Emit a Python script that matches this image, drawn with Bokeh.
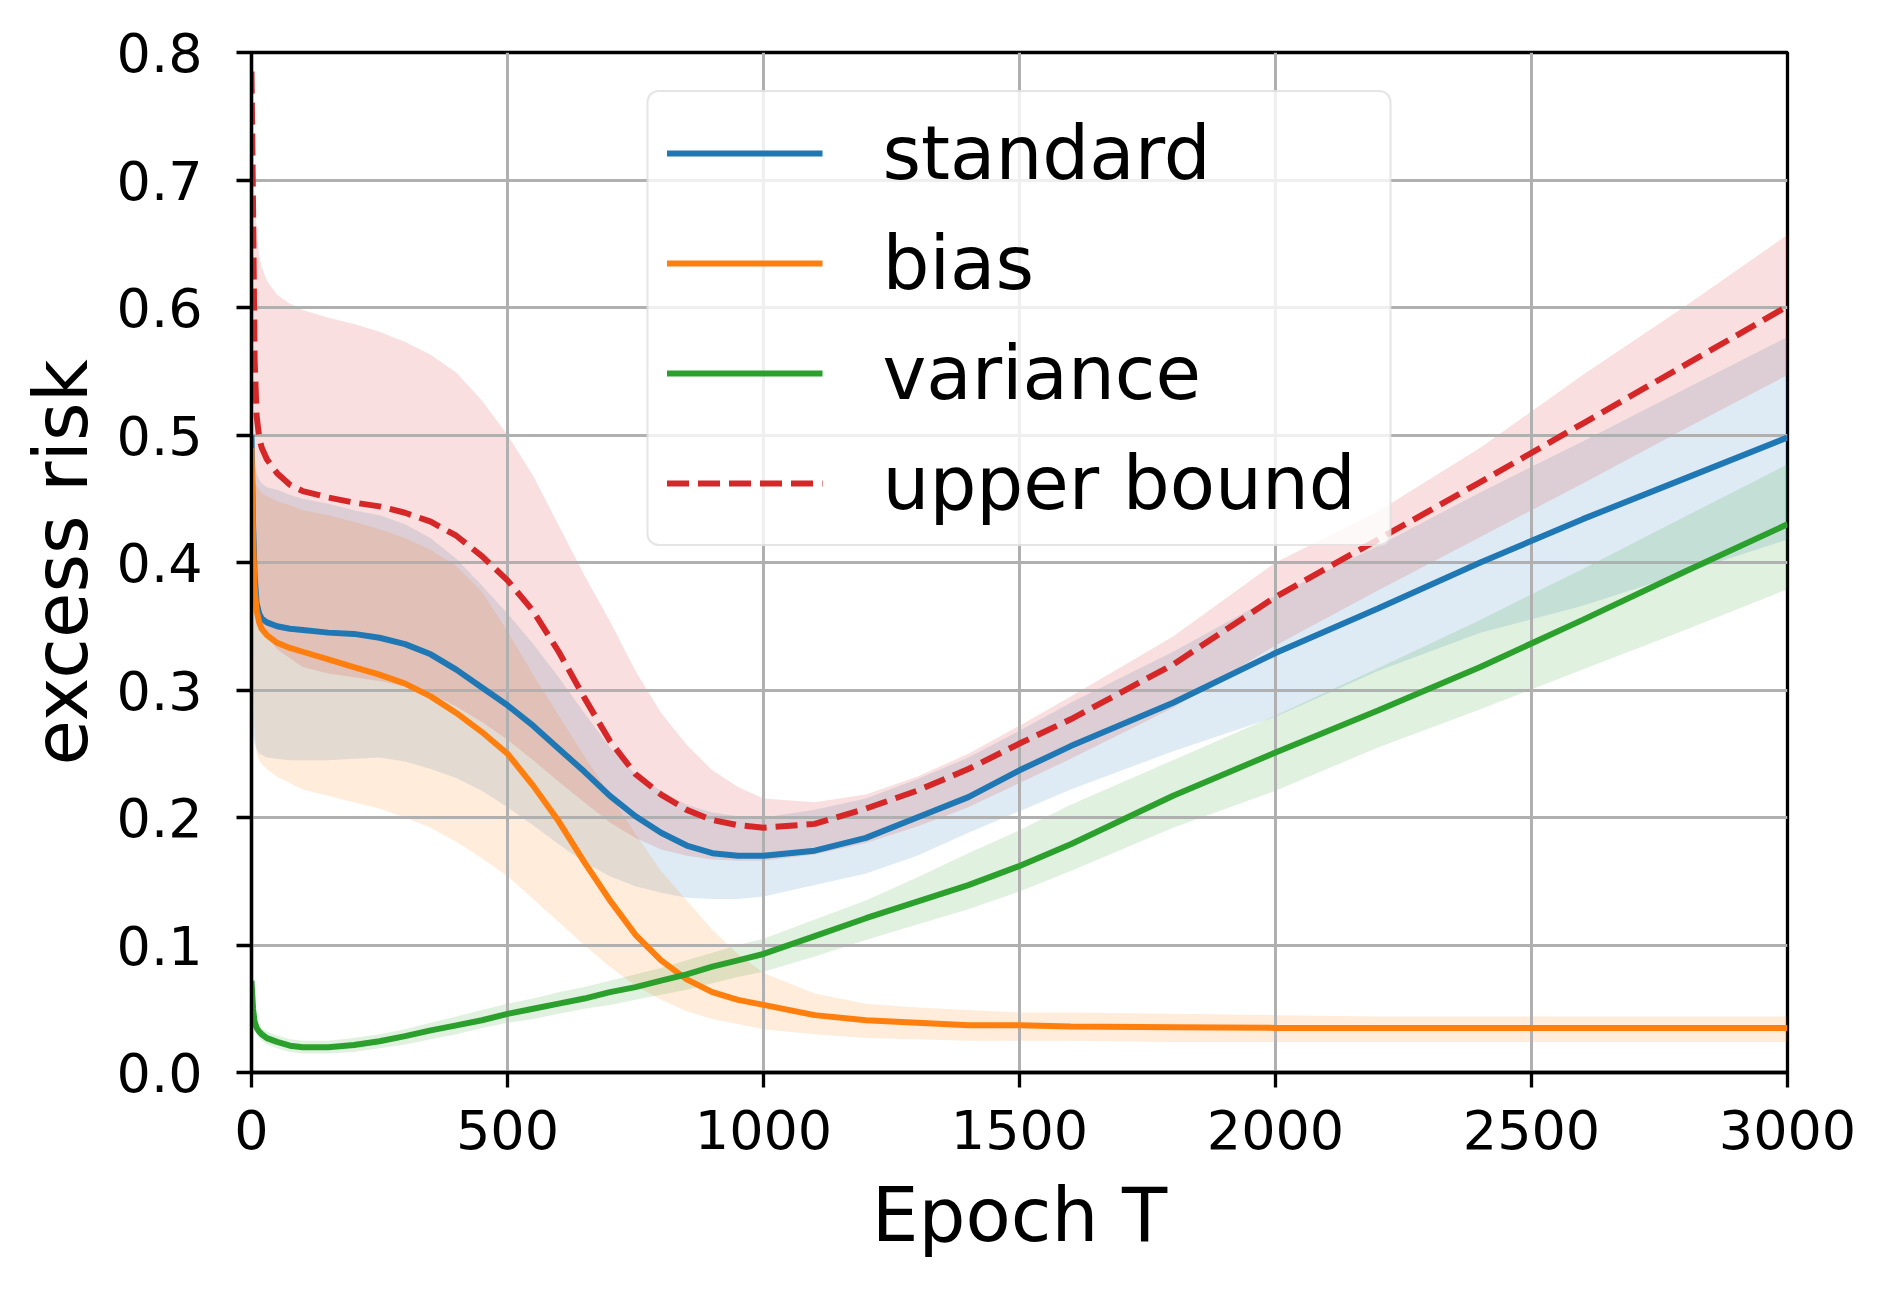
from bokeh.plotting import figure
from bokeh.models import Range1d, FixedTicker, PrintfTickFormatter, Legend, LegendItem
from bokeh.embed import file_html
from bokeh.resources import INLINE

# ---------------- data ----------------
epoch = [0, 3, 6, 10, 15, 20, 30, 50, 75, 100, 150, 200, 250, 300, 350, 400, 450, 500, 550, 600,
         650, 700, 750, 800, 850, 900, 950, 1000, 1100, 1200, 1300, 1400, 1500, 1600,
         1800, 2000, 2200, 2400, 2600, 2800, 3000]

standard = [0.50, 0.43, 0.39, 0.368, 0.36, 0.356, 0.353, 0.350, 0.348, 0.347, 0.345, 0.344, 0.341, 0.336,
            0.328, 0.316, 0.302, 0.288, 0.272, 0.254, 0.236, 0.217, 0.201, 0.188, 0.178, 0.172, 0.170,
            0.170, 0.174, 0.184, 0.200, 0.216, 0.237, 0.256, 0.290, 0.329, 0.364, 0.400, 0.434, 0.466, 0.498]
standard_lo = [0.28, 0.265, 0.258, 0.254, 0.25, 0.249, 0.247, 0.246, 0.245, 0.245, 0.245, 0.246, 0.247, 0.244,
               0.238, 0.231, 0.221, 0.208, 0.194, 0.179, 0.165, 0.154, 0.146, 0.141, 0.137, 0.136, 0.136,
               0.138, 0.147, 0.156, 0.170, 0.188, 0.205, 0.222, 0.252, 0.279, 0.315, 0.345, 0.366, 0.392, 0.418]
standard_hi = [0.53, 0.50, 0.48, 0.47, 0.465, 0.462, 0.459, 0.457, 0.453, 0.45, 0.446, 0.441, 0.437, 0.430,
               0.419, 0.403, 0.382, 0.360, 0.336, 0.310, 0.282, 0.255, 0.234, 0.221, 0.210, 0.204, 0.201,
               0.200, 0.206, 0.215, 0.230, 0.247, 0.268, 0.290, 0.330, 0.374, 0.413, 0.455, 0.495, 0.536, 0.577]

bias = [0.49, 0.42, 0.38, 0.362, 0.353, 0.348, 0.343, 0.337, 0.333, 0.330, 0.324, 0.318, 0.312, 0.305,
        0.295, 0.282, 0.267, 0.250, 0.225, 0.197, 0.165, 0.135, 0.108, 0.088, 0.073, 0.063, 0.057,
        0.053, 0.045, 0.041, 0.039, 0.037, 0.037, 0.036, 0.0355, 0.035, 0.035, 0.035, 0.035, 0.035, 0.035]
bias_lo = [0.45, 0.33, 0.27, 0.25, 0.245, 0.242, 0.238, 0.232, 0.227, 0.222, 0.217, 0.212, 0.207, 0.200,
           0.192, 0.181, 0.168, 0.154, 0.136, 0.118, 0.100, 0.083, 0.068, 0.057, 0.048, 0.042, 0.038,
           0.034, 0.030, 0.027, 0.026, 0.025, 0.025, 0.025, 0.024, 0.024, 0.024, 0.024, 0.024, 0.024, 0.024]
bias_hi = [0.50, 0.48, 0.465, 0.46, 0.457, 0.455, 0.452, 0.448, 0.445, 0.441, 0.437, 0.432, 0.426, 0.419,
           0.410, 0.397, 0.377, 0.346, 0.312, 0.280, 0.248, 0.218, 0.187, 0.158, 0.135, 0.112, 0.093,
           0.078, 0.062, 0.054, 0.051, 0.049, 0.047, 0.047, 0.046, 0.045, 0.044, 0.044, 0.044, 0.044, 0.044]

variance = [0.072, 0.05, 0.04, 0.035, 0.032, 0.030, 0.027, 0.024, 0.021, 0.0198, 0.0198, 0.0215, 0.0245, 0.0285,
            0.033, 0.037, 0.041, 0.046, 0.050, 0.054, 0.058, 0.063, 0.067, 0.072, 0.077, 0.083, 0.088,
            0.093, 0.107, 0.121, 0.134, 0.147, 0.162, 0.179, 0.217, 0.251, 0.284, 0.318, 0.355, 0.393, 0.430]
variance_lo = [0.062, 0.042, 0.034, 0.03, 0.027, 0.025, 0.022, 0.019, 0.016, 0.015, 0.015, 0.016, 0.019, 0.022,
               0.026, 0.030, 0.035, 0.039, 0.042, 0.046, 0.050, 0.053, 0.057, 0.061, 0.065, 0.070, 0.075,
               0.079, 0.091, 0.104, 0.116, 0.128, 0.142, 0.158, 0.192, 0.221, 0.255, 0.285, 0.316, 0.347, 0.379]
variance_hi = [0.075, 0.056, 0.046, 0.04, 0.037, 0.035, 0.032, 0.029, 0.026, 0.025, 0.025, 0.027, 0.030, 0.034,
               0.039, 0.044, 0.049, 0.054, 0.058, 0.063, 0.067, 0.072, 0.077, 0.082, 0.088, 0.094, 0.100,
               0.105, 0.120, 0.135, 0.153, 0.172, 0.190, 0.210, 0.245, 0.280, 0.317, 0.355, 0.395, 0.436, 0.477]

upper_bound = [0.785, 0.68, 0.56, 0.515, 0.498, 0.49, 0.481, 0.470, 0.461, 0.456, 0.451, 0.447, 0.444, 0.439,
               0.432, 0.421, 0.405, 0.386, 0.362, 0.330, 0.294, 0.260, 0.234, 0.218, 0.206, 0.198, 0.194,
               0.192, 0.195, 0.207, 0.221, 0.238, 0.258, 0.277, 0.320, 0.373, 0.418, 0.463, 0.509, 0.555, 0.601]
upper_bound_lo = [0.77, 0.58, 0.47, 0.40, 0.37, 0.351, 0.342, 0.332, 0.325, 0.318, 0.313, 0.310, 0.307, 0.303,
                  0.297, 0.287, 0.275, 0.261, 0.245, 0.228, 0.212, 0.196, 0.184, 0.175, 0.170, 0.167, 0.166,
                  0.166, 0.171, 0.180, 0.193, 0.208, 0.227, 0.246, 0.286, 0.335, 0.378, 0.420, 0.462, 0.505, 0.547]
upper_bound_hi = [0.80, 0.74, 0.69, 0.66, 0.64, 0.632, 0.621, 0.610, 0.603, 0.598, 0.592, 0.587, 0.581, 0.573,
                  0.563, 0.549, 0.527, 0.500, 0.468, 0.429, 0.390, 0.354, 0.315, 0.282, 0.257, 0.237, 0.224,
                  0.215, 0.212, 0.218, 0.232, 0.250, 0.272, 0.295, 0.342, 0.400, 0.440, 0.490, 0.547, 0.601, 0.657]

x_ticks = [0, 500, 1000, 1500, 2000, 2500, 3000]
y_ticks = [0.0, 0.1, 0.2, 0.3, 0.4, 0.5, 0.6, 0.7, 0.8]

series = [
    ("standard", standard, standard_lo, standard_hi, "#1f77b4", "solid"),
    ("bias", bias, bias_lo, bias_hi, "#ff7f0e", "solid"),
    ("variance", variance, variance_lo, variance_hi, "#2ca02c", "solid"),
    ("upper bound", upper_bound, upper_bound_lo, upper_bound_hi, "#d62728", "22 9"),
]

FONT = "DejaVu Sans"

p = figure(width=1874, height=1274, output_backend="svg", toolbar_location=None,
           x_range=Range1d(0, 3000), y_range=Range1d(0, 0.8),
           min_border_left=251, min_border_right=87, min_border_top=52, min_border_bottom=202)

p.background_fill_color = "white"
p.border_fill_color = "white"
p.outline_line_color = "black"
p.outline_line_width = 3.3

for g in (p.xgrid, p.ygrid):
    g.grid_line_color = "#b0b0b0"
    g.grid_line_width = 3
for g in p.xgrid:
    g.ticker = FixedTicker(ticks=x_ticks)
for g in p.ygrid:
    g.ticker = FixedTicker(ticks=y_ticks)

p.xaxis.ticker = FixedTicker(ticks=x_ticks)
p.yaxis.ticker = FixedTicker(ticks=y_ticks)
p.xaxis.formatter = PrintfTickFormatter(format="%d")
p.yaxis.formatter = PrintfTickFormatter(format="%.1f")
for ax in (p.xaxis[0], p.yaxis[0]):
    ax.axis_line_color = "black"
    ax.axis_line_width = 3.3
    ax.major_tick_line_color = "black"
    ax.major_tick_line_width = 3.3
    ax.major_tick_in = 0
    ax.major_tick_out = 15
    ax.minor_tick_line_color = None
    ax.major_label_text_font = FONT
    ax.major_label_text_font_size = "54px"
    ax.major_label_text_color = "black"
    ax.axis_label_text_font = FONT
    ax.axis_label_text_font_size = "74px"
    ax.axis_label_text_font_style = "normal"
    ax.axis_label_text_color = "black"

p.xaxis.major_label_standoff = 22
p.yaxis.major_label_standoff = 34
p.yaxis.axis_label = "excess risk"
p.yaxis.axis_label_standoff = 10
p.xaxis.axis_label = "Epoch T"
p.xaxis.axis_label_standoff = 20

# bands (below the grid, like matplotlib's fill_between)
for name, mean, lo, hi, color, dash in series:
    r = p.varea(x=epoch, y1=lo, y2=hi, fill_color=color, fill_alpha=0.15)
    r.level = "image"

# mean curves
items = []
for name, mean, lo, hi, color, dash in series:
    r = p.line(x=epoch, y=mean, line_color=color, line_width=6, line_dash=dash)
    items.append(LegendItem(label=name, renderers=[r]))

legend = Legend(items=items, location="top_center", margin=38,
                label_text_font=FONT, label_text_font_size="74px", label_text_color="black",
                glyph_width=156, glyph_height=86, label_height=86, label_width=489,
                label_standoff=60, spacing=24, padding=18,
                border_line_color="#cccccc", border_line_width=2,
                background_fill_color="white", background_fill_alpha=0.8)
try:
    legend.border_radius = 12
except Exception:
    pass
p.add_layout(legend)

open("out.html", "w").write(file_html(p, INLINE))
